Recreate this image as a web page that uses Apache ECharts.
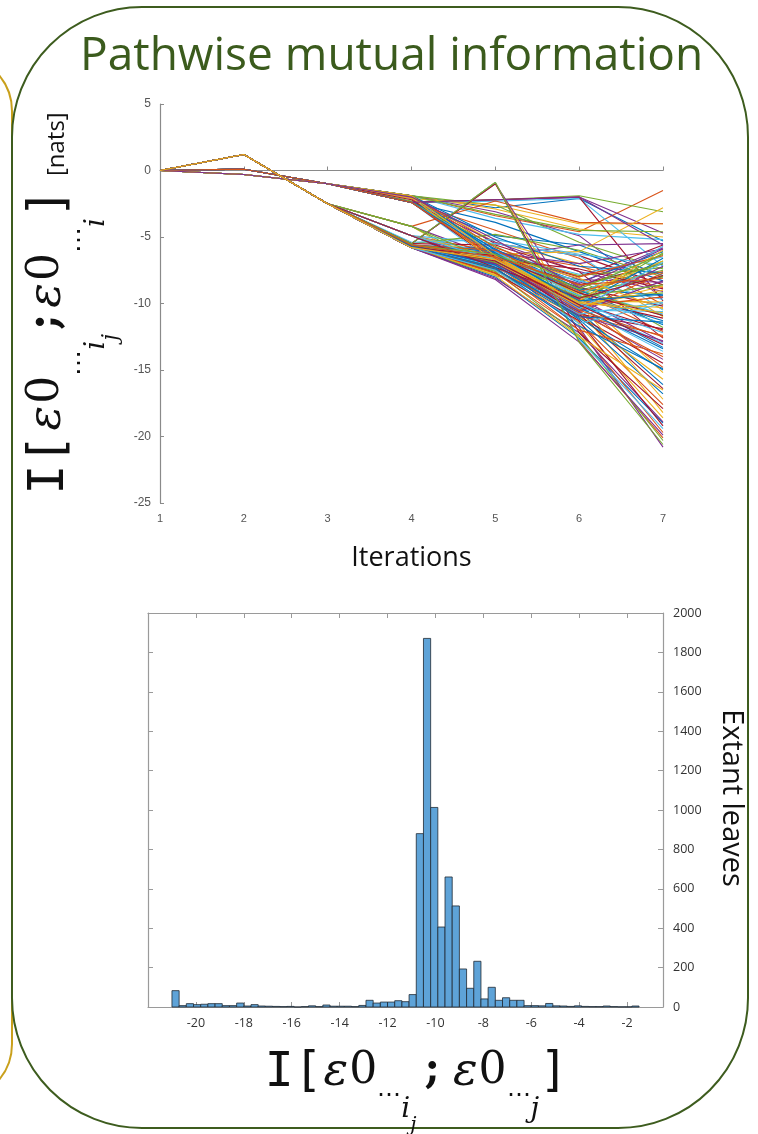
<!DOCTYPE html>
<html>
<head>
<meta charset="utf-8">
<script src="https://cdn.jsdelivr.net/npm/echarts@6/dist/echarts.min.js"></script>
<style>
html,body{margin:0;padding:0;background:#ffffff;}
#chart{width:758px;height:1134px;}
</style>
</head>
<body>
<div id="chart"></div>
<script>
// ---------- DATA ----------
const TITLE = 'Pathwise mutual information';
const ITERATIONS = [1, 2, 3, 4, 5, 6, 7];
// pathwise mutual information (nats) for each path, one value per iteration
const PATHS = [
  [0,-0.3,-1.0,-1.9,-2.8,-2.1,-5.3],
  [0,-0.3,-1.0,-1.9,-3.4,-4.6,-1.5],
  [0,-0.3,-1.0,-1.9,-2.9,-4.4,-5.0],
  [0,-0.3,-1.0,-1.9,-3.1,-4.9,-9.6],
  [0,-0.3,-1.0,-1.9,-2.6,-5.4,-7.4],
  [0,-0.3,-1.0,-1.9,-3.6,-4.8,-5.2],
  [0,-0.3,-1.0,-1.9,-5.5,-6.4,-8.6],
  [0,-0.3,-1.0,-2.0,-6.0,-8.4,-6.1],
  [0,-0.3,-1.0,-2.1,-6.6,-9.2,-12.1],
  [0,-0.3,-1.0,-2.0,-5.4,-7.0,-11.0],
  [0,0.1,-1.0,-2.4,-2.2,-2.0,-4.7],
  [0,0.1,-1.0,-2.4,-2.2,-1.9,-3.1],
  [0,0.1,-1.0,-2.4,-2.3,-2.1,-7.2],
  [0,0.1,-1.0,-2.4,-2.2,-2.0,-9.8],
  [0,0.1,-1.0,-2.4,-3.9,-6.1,-8.3],
  [0,0.1,-1.0,-2.4,-4.5,-6.6,-10.1],
  [0,0.1,-1.0,-2.1,-2.6,-4.0,-4.0],
  [0,0.1,-1.0,-2.4,-5.4,-7.6,-9.1],
  [0,0.1,-1.0,-2.3,-6.8,-9.6,-6.8],
  [0,0.1,-1.0,-2.4,-7.0,-10.3,-13.6],
  [0,0.1,-1.0,-2.2,-6.2,-8.0,-5.6],
  [0,0.1,-1.0,-2.4,-4.9,-5.6,-7.9],
  [0,1.2,-2.5,-4.2,-2.3,-3.9,-4.0],
  [0,1.2,-2.5,-4.2,-7.8,-9.4,-15.2],
  [0,1.2,-2.5,-4.2,-6.5,-5.6,-5.5],
  [0,1.2,-2.5,-4.2,-7.4,-8.2,-11.8],
  [0,1.2,-2.5,-4.9,-5.5,-6.4,-10.5],
  [0,1.2,-2.5,-4.9,-6.8,-10.0,-12.0],
  [0,1.2,-2.5,-4.9,-7.5,-10.6,-16.1],
  [0,1.2,-2.5,-4.9,-6.1,-7.2,-8.8],
  [0,1.2,-2.5,-5.8,-6.3,-6.1,-2.8],
  [0,1.2,-2.5,-5.8,-6.6,-8.5,-5.8],
  [0,1.2,-2.5,-5.8,-7.0,-9.0,-7.5],
  [0,1.2,-2.5,-5.8,-6.0,-10.0,-13.0],
  [0,1.2,-2.5,-5.8,-7.2,-11.0,-14.5],
  [0,1.2,-2.5,-5.8,-8.0,-12.6,-19.0],
  [0,1.2,-2.5,-5.8,-7.7,-11.4,-17.6],
  [0,1.2,-2.5,-5.7,-6.4,-10.4,-18.2],
  [0,1.2,-2.5,-5.7,-6.9,-11.8,-20.8],
  [0,1.2,-2.5,-5.7,-7.1,-9.8,-9.2],
  [0,1.2,-2.5,-5.6,-6.2,-7.8,-6.5],
  [0,1.2,-2.5,-5.6,-6.7,-8.8,-10.2],
  [0,1.2,-2.5,-5.6,-5.9,-9.4,-11.3],
  [0,1.2,-2.5,-5.5,-0.9,-12.8,-20.1],
  [0,1.2,-2.5,-5.5,-0.9,-11.6,-18.6],
  [0,1.2,-2.5,-5.5,-1.0,-10.6,-14.2],
  [0,1.2,-2.5,-5.5,-4.8,-6.0,-8.0],
  [0,1.2,-2.5,-5.4,-5.2,-6.3,-7.1],
  [0,1.2,-2.5,-5.5,-5.6,-7.6,-12.6],
  [0,1.2,-2.5,-5.8,-6.8,-11.2,-16.8],
  [0,1.2,-2.5,-5.8,-7.3,-12.0,-19.7],
  [0,1.2,-2.5,-5.6,-6.5,-10.2,-9.0],
  [0,1.2,-2.5,-5.7,-6.0,-8.2,-8.4],
  [0,1.2,-2.5,-5.8,-7.9,-9.9,-6.2],
  [0,1.2,-2.5,-4.9,-6.3,-9.0,-10.8],
  [0,1.2,-2.5,-5.8,-6.9,-10.8,-11.9],
  [0,-0.3,-1.0,-1.9,-5.0,-7.2,-7.7],
  [0,0.1,-1.0,-2.4,-6.4,-10.1,-14.8],
  [0,1.2,-2.5,-5.7,-7.6,-10.0,-17.2],
  [0,1.2,-2.5,-5.6,-6.6,-9.6,-12.9],
  [0,1.2,-2.5,-5.7,-6.8,-9.2,-8.0],
  [0,1.2,-2.5,-5.8,-7.1,-10.5,-10.6],
  [0,1.2,-2.5,-5.6,-6.3,-8.6,-7.0],
  [0,0.1,-1.0,-2.4,-5.9,-8.9,-9.4],
  [0,1.2,-2.5,-5.7,-7.4,-10.9,-12.4],
  [0,1.2,-2.5,-5.8,-6.5,-9.3,-6.8],
  [0,1.2,-2.5,-5.8,-6.2,-7.0,-5.9],
  [0,1.2,-2.5,-5.8,-6.4,-7.9,-7.3],
  [0,1.2,-2.5,-5.7,-6.6,-8.3,-9.7],
  [0,1.2,-2.5,-5.8,-7.0,-9.7,-11.1],
  [0,1.2,-2.5,-5.6,-7.2,-10.3,-13.4],
  [0,1.2,-2.5,-5.8,-7.5,-10.7,-14.0],
  [0,1.2,-2.5,-5.7,-7.8,-11.0,-15.7],
  [0,1.2,-2.5,-5.8,-8.1,-12.2,-18.9],
  [0,1.2,-2.5,-5.8,-7.6,-12.4,-20.3],
  [0,1.2,-2.5,-5.5,-0.9,-12.7,-19.4],
  [0,1.2,-2.5,-5.5,-1.0,-12.2,-17.9],
  [0,1.2,-2.5,-5.6,-6.1,-10.1,-6.6],
  [0,1.2,-2.5,-5.7,-6.3,-10.5,-7.7],
  [0,1.2,-2.5,-4.9,-6.5,-9.8,-9.9],
  [0,1.2,-2.5,-4.9,-7.1,-10.9,-12.8],
  [0,1.2,-2.5,-4.2,-6.9,-9.0,-10.9],
  [0,1.2,-2.5,-5.6,-6.8,-9.4,-5.7],
  [0,1.2,-2.5,-5.8,-6.7,-7.4,-8.9],
  [0,1.2,-2.5,-5.7,-6.5,-9.0,-11.6],
  [0,1.2,-2.5,-5.8,-7.3,-10.2,-9.5],
  [0,1.2,-2.5,-5.6,-6.4,-8.1,-10.4],
  [0,1.2,-2.5,-5.8,-6.9,-10.6,-8.3],
  [0,0.1,-1.0,-2.4,-5.7,-8.7,-7.0],
  [0,0.1,-1.0,-2.4,-6.1,-9.5,-11.5],
  [0,0.1,-1.0,-2.4,-6.8,-10.8,-16.4],
  [0,-0.3,-1.0,-1.9,-6.2,-9.9,-13.3],
  [0,-0.3,-1.0,-1.9,-5.8,-8.0,-6.4],
  [0,-0.3,-1.0,-2.0,-6.9,-10.2,-8.7],
  [0,0.1,-1.0,-2.4,-2.2,-2.0,-5.6],
  [0,-0.3,-1.0,-1.9,-3.3,-4.5,-4.6],
  [0,1.2,-2.5,-5.8,-6.3,-10.0,-12.2],
  [0,1.2,-2.5,-5.7,-7.7,-11.3,-19.2],
  [0,1.2,-2.5,-5.8,-7.4,-11.1,-15.0],
  [0,1.2,-2.5,-5.6,-6.0,-9.1,-7.6],
  [0,1.2,-2.5,-5.7,-6.6,-9.8,-6.0],
  [0,1.2,-2.5,-5.8,-7.0,-10.3,-7.2],
  [0,1.2,-2.5,-5.6,-6.9,-9.5,-8.6],
  [0,1.2,-2.5,-5.7,-7.2,-10.8,-9.9],
  [0,1.2,-2.5,-5.8,-6.4,-9.2,-10.9],
  [0,1.2,-2.5,-5.6,-7.1,-11.0,-11.4],
  [0,1.2,-2.5,-5.8,-7.7,-12.0,-13.8],
  [0,1.2,-2.5,-5.7,-7.9,-12.5,-16.5],
  [0,1.2,-2.5,-5.8,-8.2,-12.9,-19.9],
  [0,1.2,-2.5,-5.5,-0.9,-12.9,-20.6],
  [0,1.2,-2.5,-4.9,-6.7,-10.4,-6.9],
  [0,1.2,-2.5,-4.9,-7.3,-9.6,-7.9],
  [0,0.1,-1.0,-2.4,-6.3,-9.8,-9.3],
  [0,0.1,-1.0,-2.4,-6.6,-10.5,-12.5],
  [0,-0.3,-1.0,-1.9,-6.4,-10.0,-10.3],
  [0,-0.3,-1.0,-2.0,-5.2,-8.8,-5.9],
  [0,1.2,-2.5,-5.6,-6.3,-8.9,-6.3],
  [0,1.2,-2.5,-5.8,-7.5,-11.5,-10.0],
  [0,1.2,-2.5,-5.7,-6.8,-10.1,-13.1],
  [0,1.2,-2.5,-5.7,-7.3,-11.7,-14.9],
  [0,1.2,-2.5,-5.6,-6.5,-8.6,-8.1],
  [0,1.2,-2.5,-5.8,-6.7,-9.9,-10.7]
];
const LINE_COLORS = ['#0072BD','#D95319','#EDB120','#7E2F8E','#77AC30','#4DBEEE','#A2142F'];

// histogram of leaf mutual information
const BIN_START = -21;
const BIN_WIDTH = 0.3;
const COUNTS = [83,7,17,12,14,17,17,7,7,20,5,12,5,4,3,2,3,0,2,6,2,10,4,4,4,2,8,34,20,25,
                25,32,27,63,880,1871,1013,406,660,513,193,95,232,41,100,34,47,34,34,7,
                7,6,18,6,5,3,6,3,2,2,5,2,1,1,5];

// ---------- CHART ----------
const chart = echarts.init(document.getElementById('chart'), null, {renderer: 'canvas'});

const lineSeries = PATHS.map((p, i) => ({
  type: 'line',
  xAxisIndex: 0, yAxisIndex: 0,
  data: ITERATIONS.map((it, k) => [it, p[k]]),
  symbol: 'none',
  silent: true,
  lineStyle: {width: 1.1, color: LINE_COLORS[i % LINE_COLORS.length]},
  z: 2
}));

const histData = COUNTS.map((c, k) => [BIN_START + k * BIN_WIDTH, BIN_START + (k + 1) * BIN_WIDTH, c]);

const ink = '#111';
const yRich = {
  I: {fontFamily: 'DejaVu Sans Mono', fontSize: 50, color: ink, lineHeight: 60, verticalAlign: 'top', padding: [0, 2, 0, 0]},
  e: {fontFamily: 'DejaVu Serif', fontStyle: 'italic', fontSize: 46, color: ink, lineHeight: 60, verticalAlign: 'top', padding: [0, 2, 0, 2]},
  z: {fontFamily: 'DejaVu Serif', fontSize: 44, color: ink, lineHeight: 60, verticalAlign: 'top'},
  sc: {fontFamily: 'DejaVu Serif', fontWeight: 'bold', fontSize: 44, color: ink, lineHeight: 60, verticalAlign: 'top', padding: [0, 4, 0, 2]},
  d: {fontFamily: 'DejaVu Serif', fontSize: 26, color: ink, lineHeight: 26, verticalAlign: 'top', padding: [42, 0, 0, 0]},
  s: {fontFamily: 'DejaVu Serif', fontStyle: 'italic', fontSize: 28, color: ink, lineHeight: 28, verticalAlign: 'top', padding: [58, 0, 0, 0]},
  ss: {fontFamily: 'DejaVu Serif', fontStyle: 'italic', fontSize: 22, color: ink, lineHeight: 22, verticalAlign: 'top', padding: [76, 2, 0, 0]},
  n: {fontFamily: 'Open Sans', fontSize: 24, color: ink, lineHeight: 34, verticalAlign: 'top', padding: [20, 0, 0, 10]}
};
const xRich = {
  I: {fontFamily: 'DejaVu Sans Mono', fontSize: 48, color: ink, lineHeight: 56, verticalAlign: 'top'},
  I0: {fontFamily: 'DejaVu Sans Mono', fontSize: 48, color: ink, lineHeight: 56, verticalAlign: 'top', padding: [0, 0, 0, 22]},
  e: {fontFamily: 'DejaVu Serif', fontStyle: 'italic', fontSize: 46, color: ink, lineHeight: 56, verticalAlign: 'top', padding: [0, 1, 0, 1]},
  z: {fontFamily: 'DejaVu Serif', fontSize: 44, color: ink, lineHeight: 56, verticalAlign: 'top'},
  sc: {fontFamily: 'DejaVu Serif', fontWeight: 'bold', fontSize: 42, color: ink, lineHeight: 56, verticalAlign: 'top', padding: [0, 12, 0, 6]},
  d: {fontFamily: 'DejaVu Serif', fontSize: 24, color: ink, lineHeight: 24, verticalAlign: 'top', padding: [34, 0, 0, 0]},
  s: {fontFamily: 'DejaVu Serif', fontStyle: 'italic', fontSize: 28, color: ink, lineHeight: 28, verticalAlign: 'top', padding: [46, 0, 0, 0]},
  ss: {fontFamily: 'DejaVu Serif', fontStyle: 'italic', fontSize: 20, color: ink, lineHeight: 20, verticalAlign: 'top', padding: [66, 2, 0, 0]}
};

const option = {
  backgroundColor: '#ffffff',
  animation: false,
  title: {
    text: TITLE,
    left: 75, top: 29,
    textStyle: {fontFamily: 'Open Sans', fontSize: 46, fontWeight: 'normal', color: '#3b5b1d'}
  },
  graphic: [
    {type: 'rect', shape: {x: -100, y: 55, width: 112, height: 1045, r: 70}, style: {fill: 'none', stroke: '#c9a01c', lineWidth: 2}, z: 0},
    {type: 'rect', shape: {x: 12, y: 7, width: 736, height: 1121, r: 130}, style: {fill: '#ffffff', stroke: '#3d5c1e', lineWidth: 2}, z: 0}
  ],
  grid: [
    {left: 160, top: 104, width: 503, height: 399, outerBoundsMode: 'none', containLabel: false},
    {left: 148, top: 613, width: 515, height: 394, outerBoundsMode: 'none', containLabel: false}
  ],
  xAxis: [
    {
      gridIndex: 0, type: 'value', min: 1, max: 7, interval: 1,
      name: 'Iterations', nameLocation: 'middle', nameGap: 42,
      nameTextStyle: {fontFamily: 'Open Sans', fontSize: 27, color: ink},
      axisLine: {lineStyle: {color: '#8a8a8a', width: 1.2}},
      axisTick: {inside: true, length: 4, lineStyle: {color: '#8a8a8a'}},
      axisLabel: {fontFamily: 'Liberation Sans', fontSize: 11, color: '#555', margin: 10},
      splitLine: {show: false}
    },
    {
      gridIndex: 1, type: 'value', min: -22, max: -0.5, interval: 2, position: 'bottom',
      name: '{I0|I[}{e|ε}{z|0}{d|⋯}{s|i}{ss|j}{sc|;}{e|ε}{z|0}{d|⋯}{s|j}{I|]}',
      nameLocation: 'middle', nameGap: 43,
      nameTextStyle: {rich: xRich},
      axisLine: {onZero: false, lineStyle: {color: '#9a9a9a', width: 1.2}},
      axisTick: {inside: true, length: 5, lineStyle: {color: '#9a9a9a'}},
      axisLabel: {
        fontFamily: 'Open Sans', fontSize: 12.5, color: '#333', margin: 10,
        formatter: v => (Number.isInteger(v) && v >= -20 && v <= -2) ? String(v) : ''
      },
      splitLine: {show: false}
    },
    {
      gridIndex: 1, type: 'value', min: -22, max: -0.5, interval: 2, position: 'top',
      axisLine: {onZero: false, lineStyle: {color: '#9a9a9a', width: 1.2}},
      axisTick: {inside: true, length: 5, lineStyle: {color: '#9a9a9a'}},
      axisLabel: {show: false},
      splitLine: {show: false}
    }
  ],
  yAxis: [
    {
      gridIndex: 0, type: 'value', min: -25, max: 5, interval: 5,
      name: '{I|I[}{e|ε}{z|0}{d|⋯}{s|i}{ss|j}{sc|;}{e|ε}{z|0}{d|⋯}{s|i}{I|]}{n|[nats]}',
      nameLocation: 'middle', nameRotate: 90, nameGap: 30,
      nameTextStyle: {rich: yRich},
      axisLine: {lineStyle: {color: '#8a8a8a', width: 1.2}},
      axisTick: {inside: true, length: 4, lineStyle: {color: '#8a8a8a'}},
      axisLabel: {fontFamily: 'Liberation Sans', fontSize: 12, color: '#555', margin: 9},
      splitLine: {show: false}
    },
    {
      gridIndex: 1, type: 'value', min: 0, max: 2000, interval: 200, position: 'left',
      axisLine: {onZero: false, lineStyle: {color: '#9a9a9a', width: 1.2}},
      axisTick: {inside: true, length: 5, lineStyle: {color: '#9a9a9a'}},
      axisLabel: {show: false},
      splitLine: {show: false}
    },
    {
      gridIndex: 1, type: 'value', min: 0, max: 2000, interval: 200, position: 'right',
      name: 'Extant leaves', nameLocation: 'middle', nameRotate: -90, nameGap: 54,
      nameTextStyle: {fontFamily: 'Open Sans', fontSize: 29, color: ink, padding: [0, 24, 0, 0]},
      axisLine: {onZero: false, lineStyle: {color: '#9a9a9a', width: 1.2}},
      axisTick: {inside: true, length: 5, lineStyle: {color: '#9a9a9a'}},
      axisLabel: {fontFamily: 'Open Sans', fontSize: 12.5, color: '#333', margin: 10, formatter: v => String(v)},
      splitLine: {show: false}
    }
  ],
  series: lineSeries.concat([{
    type: 'custom',
    xAxisIndex: 1, yAxisIndex: 1,
    data: histData,
    encode: {x: [0, 1], y: 2},
    silent: true,
    z: 3,
    renderItem: function (params, api) {
      const p0 = api.coord([api.value(0), api.value(2)]);
      const p1 = api.coord([api.value(1), 0]);
      return {
        type: 'rect',
        shape: {x: p0[0], y: p0[1], width: p1[0] - p0[0], height: p1[1] - p0[1]},
        style: {fill: '#5ea3d8', stroke: '#1f2a33', lineWidth: 0.8}
      };
    }
  }])
};
chart.setOption(option);
</script>
</body>
</html>
